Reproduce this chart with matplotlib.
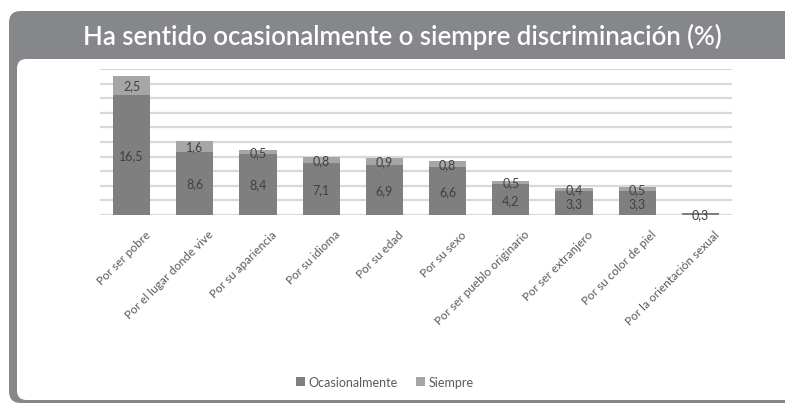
import matplotlib
matplotlib.use("Agg")
import matplotlib.pyplot as plt
from matplotlib.patches import FancyBboxPatch
from matplotlib.transforms import ScaledTranslation
import numpy as np

categories = ["Por ser pobre", "Por el lugar donde vive", "Por su apariencia", "Por su idioma",
              "Por su edad", "Por su sexo", "Por ser pueblo originario", "Por ser extranjero",
              "Por su color de piel", "Por la orientación sexual"]
ocasional = [16.5, 8.6, 8.4, 7.1, 6.9, 6.6, 4.2, 3.3, 3.3, 0.3]
siempre = [2.5, 1.6, 0.5, 0.8, 0.9, 0.8, 0.5, 0.4, 0.5, 0.0]
series_names = ["Ocasionalmente", "Siempre"]
title = "Ha sentido ocasionalmente o siempre discriminación (%)"

W, H = 785, 406
fig = plt.figure(figsize=(W / 100, H / 100), dpi=100)
fig.patch.set_facecolor("white")

def fx(px):
    return px / W

def fy(py):
    return 1 - py / H

grey = "#86878a"
# outer grey frame
fig.add_artist(FancyBboxPatch((fx(9), fy(404)), fx(850 - 9), fy(12) - fy(404),
                              boxstyle="round,pad=0,rounding_size=0.015",
                              transform=fig.transFigure, facecolor=grey, edgecolor="none",
                              zorder=0, mutation_aspect=W / H))
# inner white area
fig.add_artist(FancyBboxPatch((fx(17), fy(401)), fx(850 - 17), fy(60) - fy(401),
                              boxstyle="round,pad=0,rounding_size=0.012",
                              transform=fig.transFigure, facecolor="white", edgecolor="none",
                              zorder=0.5, mutation_aspect=W / H))

fig.text(fx(402), fy(37), title, color="white", fontsize=18.5, fontweight="semibold",
         family=["Lato", "DejaVu Sans"], ha="center", va="center", zorder=3)

ax = fig.add_axes([fx(100), fy(216), fx(732) - fx(100), fy(70) - fy(216)])
ax.set_zorder(2)
ax.set_facecolor("none")
x = np.arange(len(categories))
c_oc = "#7f7f7f"
c_si = "#a6a6a6"
bw = 0.59
b1 = ax.bar(x, ocasional, bw, color=c_oc, zorder=3, label=series_names[0])
b2 = ax.bar(x, siempre, bw, bottom=ocasional, color=c_si, zorder=3, label=series_names[1])

ax.set_xlim(-0.5, len(categories) - 0.5)
ax.set_ylim(0, 20)
ax.set_yticks(np.arange(0, 21, 2))
ax.yaxis.grid(True, color="#d9d9d9", linewidth=1.6, zorder=0)
ax.set_axisbelow(True)
for s in ax.spines.values():
    s.set_visible(False)
ax.tick_params(axis="y", left=False, labelleft=False)
ax.tick_params(axis="x", bottom=False, pad=6)
ax.set_xticks(x)
ax.set_xticklabels(categories, rotation=45, ha="right", va="top", rotation_mode="anchor",
                   fontsize=8.5, color="#595959", family=["Lato", "DejaVu Sans"])
offset = ScaledTranslation(13 / 100, 0, fig.dpi_scale_trans)
for lbl in ax.get_xticklabels():
    lbl.set_transform(lbl.get_transform() + offset)

lab_kw = dict(ha="center", va="center", fontsize=9, color="#404040",
              family=["Lato", "DejaVu Sans"], zorder=5)
for i in range(len(categories)):
    ax.text(x[i], ocasional[i] / 2, f"{ocasional[i]:.1f}".replace(".", ","), **lab_kw)
    if siempre[i] > 0:
        ax.text(x[i], ocasional[i] + siempre[i] / 2, f"{siempre[i]:.1f}".replace(".", ","), **lab_kw)

leg = fig.legend(handles=[b1, b2], labels=series_names, loc="center",
                 bbox_to_anchor=(fx(385), fy(383)), ncol=2, frameon=False,
                 handlelength=0.7, handleheight=0.7, handletextpad=0.3,
                 columnspacing=1.5, prop={"family": ["Lato", "DejaVu Sans"], "size": 9})
leg.set_zorder(3)
for t in leg.get_texts():
    t.set_color("#595959")

fig.savefig("out.png", dpi=100, facecolor="white")
